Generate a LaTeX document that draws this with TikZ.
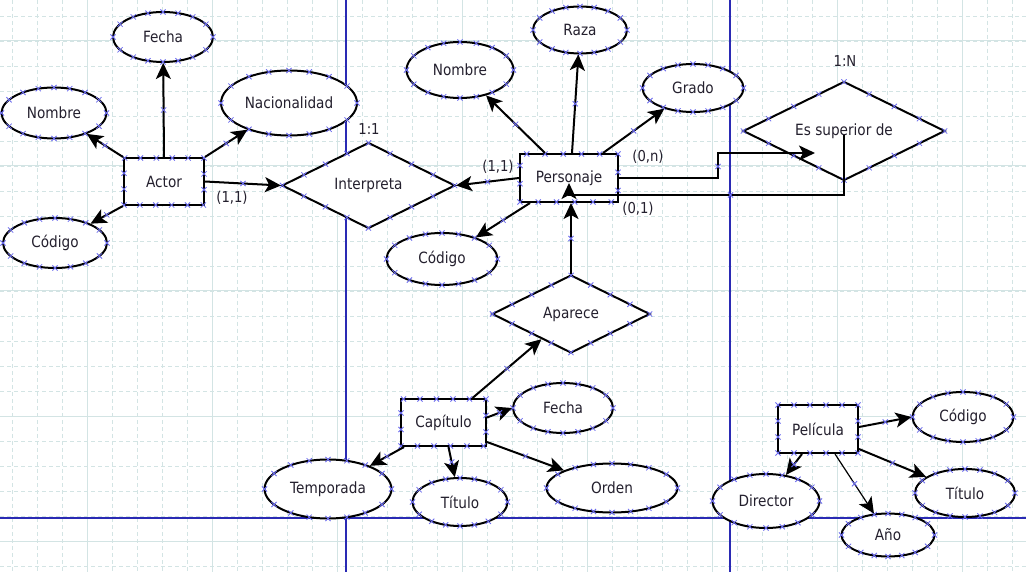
\documentclass[tikz,border=0pt]{standalone}
\usepackage{fontspec}
\setmainfont{DejaVu Sans}[FakeStretch=0.88]
\usetikzlibrary{shapes.geometric,arrows.meta,decorations.markings}
\definecolor{gridc}{HTML}{D3E4E4}
\definecolor{bluel}{HTML}{2A2AB4}
\definecolor{xcol}{HTML}{6A6AEE}
\definecolor{txt}{HTML}{24202E}
\newcommand{\xcross}{\pgftransformresetnontranslations
  \draw[xcol,-,line width=0.8pt] (-2.6pt,-2.6pt)--(2.6pt,2.6pt) (-2.6pt,2.6pt)--(2.6pt,-2.6pt);}
\tikzset{
  xm/.style={postaction={decorate,decoration={markings,
     mark=between positions 0 and 0.999 step #1 with {\xcross}}}},
  base/.style={draw=black,line width=2pt,fill=white,inner sep=0pt,text=txt,
     font=\fontsize{15.5}{18}\selectfont},
  ent/.style={base,rectangle,xm=0.0625},
  att/.style={base,ellipse,xm=0.0625},
  rel/.style={base,diamond,aspect=2,xm=0.0625},
  arr/.style={line width=2pt,-{Stealth[length=16pt,width=15pt,inset=4pt]},
     postaction={decorate,decoration={markings,mark=at position 0.5 with {\xcross}}}},
  lbl/.style={text=txt,inner sep=0pt,font=\fontsize{15}{17}\selectfont},
  gminor/.style={gridc,line width=0.9pt,dash pattern=on 4pt off 3pt},
  gmajor/.style={gridc,line width=1pt},
  bline/.style={bluel,line width=1.6pt}
}
\begin{document}
\begin{tikzpicture}[x=1pt,y=-1pt]
\useasboundingbox (0,0) rectangle (1026,572);
\fill[white] (0,0) rectangle (1026,572);
% grid
\foreach \i in {0,...,40} \draw[gminor] ({12.5+25*\i},0) -- ({12.5+25*\i},572);
\foreach \i in {0,...,22} \draw[gminor] (0,{16+25*\i}) -- (1026,{16+25*\i});
\foreach \i in {0,...,7} \draw[gmajor] ({87.5+125*\i},0) -- ({87.5+125*\i},572);
\foreach \i in {0,...,4} \draw[gmajor] (0,{41+125*\i}) -- (1026,{41+125*\i});
% blue page lines
\draw[bline] (346,0) -- (346,572);
\draw[bline] (730,0) -- (730,572);
\draw[bline] (0,518) -- (1026,518);

% entities
\node[ent,minimum width=80pt,minimum height=47pt] (actor) at (164,181.5) {Actor};
\node[ent,minimum width=98pt,minimum height=48pt] (pers) at (569,178) {Personaje};
\node[ent,minimum width=85pt,minimum height=47pt] (cap) at (443.5,422.5) {Capítulo};
\node[ent,minimum width=80pt,minimum height=48pt] (pel) at (818,429) {Película};

% relationships
\node[rel,minimum width=173pt,minimum height=86pt] (interp) at (368.5,185.5) {Interpreta};
\node[rel,minimum width=202pt,minimum height=99pt] (sup) at (844,131) {Es superior de};
\node[rel,minimum width=158pt,minimum height=78pt] (apar) at (571,314) {Aparece};

% attributes
\node[att,minimum width=100pt,minimum height=50pt] (afecha) at (163,37) {Fecha};
\node[att,minimum width=105pt,minimum height=51pt] (anombre) at (54,113) {Nombre};
\node[att,minimum width=136pt,minimum height=65pt] (anac) at (289,103) {Nacionalidad};
\node[att,minimum width=104pt,minimum height=50pt] (acod) at (55,243) {Código};

\node[att,minimum width=107pt,minimum height=56pt] (pnombre) at (460,70) {Nombre};
\node[att,minimum width=94pt,minimum height=47pt] (praza) at (580,30) {Raza};
\node[att,minimum width=101pt,minimum height=48pt] (pgrado) at (693,88) {Grado};
\node[att,minimum width=111pt,minimum height=52pt] (pcod) at (442,259) {Código};

\node[att,minimum width=100pt,minimum height=50pt] (cfecha) at (563,408) {Fecha};
\node[att,minimum width=127pt,minimum height=59pt] (ctemp) at (328,489) {Temporada};
\node[att,minimum width=95pt,minimum height=48pt] (ctit) at (460,502) {Título};
\node[att,minimum width=131pt,minimum height=49pt] (corden) at (612,488) {Orden};

\node[att,minimum width=101pt,minimum height=50pt] (mcod) at (963,417) {Código};
\node[att,minimum width=107pt,minimum height=54pt] (mdir) at (766,501) {Director};
\node[att,minimum width=93pt,minimum height=43pt] (manio) at (888,535) {Año};
\node[att,minimum width=100pt,minimum height=48pt] (mtit) at (965,493) {Título};

% labels
\node[lbl] (l1) at (232,198) {(1,1)};
\node[lbl] (l2) at (369,129) {1:1};
\node[lbl] (l3) at (498,167) {(1,1)};
\node[lbl] (l4) at (648,157) {(0,n)};
\node[lbl] (l5) at (638,209) {(0,1)};
\node[lbl] (l6) at (845,61) {1:N};

% connectors
\coordinate (supin) at (815,153);
\draw[arr] (actor.north) -- (afecha);
\draw[arr] (actor.north west) -- (anombre);
\draw[arr] (actor.north east) -- (anac);
\draw[arr] (actor.south west) -- (acod);
\draw[arr] (actor.east) -- (interp.west);

\draw[arr] (pers.west) -- (interp.east);
\draw[arr] ([xshift=-24pt]pers.north) -- (pnombre);
\draw[arr] ([xshift=3pt]pers.north) -- (praza);
\draw[arr] ([xshift=34pt]pers.north) -- (pgrado);
\draw[arr] ([xshift=11pt]pers.south west) -- (pcod);
\draw[arr] (pers.east) -- ++(99,0) |- (supin);
\draw[arr] ([yshift=-4pt]sup.center) -- ++(0,60) -| ([yshift=-5pt]pers.center);

\draw[arr] (apar.north) -- (apar.north |- pers.south);
\draw[arr] ([xshift=29pt]cap.north) -- (apar);
\draw[arr] ([yshift=5pt]cap.east) -- (cfecha.west);
\draw[arr] ([xshift=4pt]cap.south west) -- (ctemp);
\draw[arr] ([xshift=5pt]cap.south) -- (ctit);
\draw[arr] ([yshift=5pt]cap.south east) -- (corden);

\draw[arr] ([yshift=2pt]pel.east) -- (mcod.west);
\draw[arr] ([xshift=-16pt]pel.south) -- (mdir);
\draw[arr,line width=1.2pt] ([xshift=17pt]pel.south) -- (manio);
\draw[arr] ([yshift=5pt]pel.south east) -- (mtit);
\end{tikzpicture}
\end{document}
